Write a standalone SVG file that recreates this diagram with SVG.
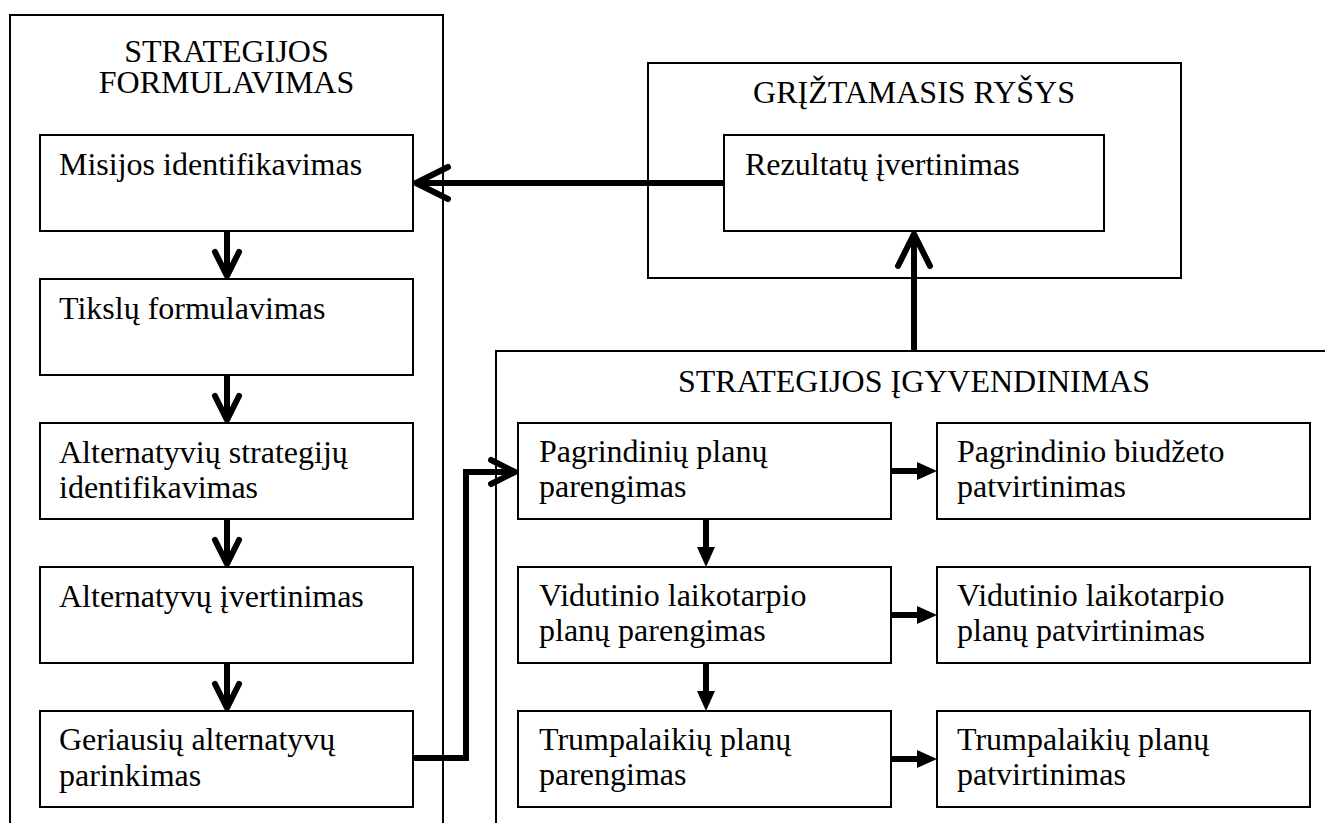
<svg xmlns="http://www.w3.org/2000/svg" width="1325" height="823" viewBox="0 0 1325 823">
  <style>
    text { font-family: "Liberation Serif", "Times New Roman", serif; font-size: 32px; fill: #000; }
    .mid { text-anchor: middle; }
    .frame { fill: none; stroke: #000; stroke-width: 2; }
    .box { fill: #fff; stroke: #000; stroke-width: 2; }
    .flow { fill: none; stroke: #000; stroke-width: 6; stroke-linecap: butt; }
  </style>
  <defs>
    <!-- open chevron heads, large and small -->
    <marker id="chevL" markerUnits="userSpaceOnUse" viewBox="-6 -22 44 44" refX="32" refY="0" markerWidth="44" markerHeight="44" orient="auto" overflow="visible">
      <path d="M0,-16 L32,0 L0,16" fill="none" stroke="#000" stroke-width="6" stroke-linecap="round" stroke-linejoin="round"/>
    </marker>
    <marker id="chevS" markerUnits="userSpaceOnUse" viewBox="-6 -18 36 36" refX="24" refY="0" markerWidth="36" markerHeight="36" orient="auto" overflow="visible">
      <path d="M0,-12 L24,0 L0,12" fill="none" stroke="#000" stroke-width="6" stroke-linecap="round" stroke-linejoin="round"/>
    </marker>
    <!-- solid triangle head; the line stops 14px short of the tip -->
    <marker id="tri" markerUnits="userSpaceOnUse" viewBox="0 0 20 18" refX="6" refY="9" markerWidth="20" markerHeight="18" orient="auto" overflow="visible">
      <path d="M0,0 L20,9 L0,18 Z" fill="#000"/>
    </marker>
  </defs>

  <rect width="1325" height="823" fill="#fff"/>

  <!-- Strategy formulation column -->
  <g id="formulavimas">
    <path class="frame" d="M10,830 V15 H443 V830"/>
    <text class="mid" x="226.5" y="62"><tspan x="226.5">STRATEGIJOS</tspan><tspan x="226.5" dy="31">FORMULAVIMAS</tspan></text>
  </g>
  <g id="misija">
    <rect class="box" x="40" y="135" width="373" height="96"/>
    <text x="59" y="175">Misijos identifikavimas</text>
  </g>
  <g id="tikslai">
    <rect class="box" x="40" y="279" width="373" height="96"/>
    <text x="59" y="319">Tikslų formulavimas</text>
  </g>
  <g id="alternatyvos">
    <rect class="box" x="40" y="423" width="373" height="96"/>
    <text x="59" y="463">Alternatyvių strategijų</text>
    <text x="59" y="498">identifikavimas</text>
  </g>
  <g id="ivertinimas">
    <rect class="box" x="40" y="567" width="373" height="96"/>
    <text x="59" y="607">Alternatyvų įvertinimas</text>
  </g>
  <g id="parinkimas">
    <rect class="box" x="40" y="711" width="373" height="96"/>
    <text x="59" y="750">Geriausių alternatyvų</text>
    <text x="59" y="786">parinkimas</text>
  </g>

  <!-- Feedback -->
  <g id="griztamasis">
    <rect class="frame" x="648" y="63" width="533" height="215"/>
    <text class="mid" x="914" y="103">GRĮŽTAMASIS RYŠYS</text>
  </g>
  <g id="rezultatai">
    <rect class="box" x="724" y="135" width="380" height="96"/>
    <text x="745" y="175">Rezultatų įvertinimas</text>
  </g>

  <!-- Strategy implementation -->
  <g id="igyvendinimas">
    <path class="frame" d="M496,830 V351 H1335"/>
    <text class="mid" x="914" y="392">STRATEGIJOS ĮGYVENDINIMAS</text>
  </g>
  <g id="pagrindiniai-planai">
    <rect class="box" x="518" y="423" width="373" height="96"/>
    <text x="539" y="462">Pagrindinių planų</text>
    <text x="539" y="497">parengimas</text>
  </g>
  <g id="vidutiniai-planai">
    <rect class="box" x="518" y="567" width="373" height="96"/>
    <text x="539" y="606">Vidutinio laikotarpio</text>
    <text x="539" y="641">planų parengimas</text>
  </g>
  <g id="trumpalaikiai-planai">
    <rect class="box" x="518" y="711" width="373" height="96"/>
    <text x="539" y="750">Trumpalaikių planų</text>
    <text x="539" y="785">parengimas</text>
  </g>
  <g id="biudzetas">
    <rect class="box" x="937" y="423" width="373" height="96"/>
    <text x="957" y="462">Pagrindinio biudžeto</text>
    <text x="957" y="497">patvirtinimas</text>
  </g>
  <g id="vidutiniu-tvirtinimas">
    <rect class="box" x="937" y="567" width="373" height="96"/>
    <text x="957" y="606">Vidutinio laikotarpio</text>
    <text x="957" y="641">planų patvirtinimas</text>
  </g>
  <g id="trumpalaikiu-tvirtinimas">
    <rect class="box" x="937" y="711" width="373" height="96"/>
    <text x="957" y="750">Trumpalaikių planų</text>
    <text x="957" y="785">patvirtinimas</text>
  </g>

  <!-- Connectors -->
  <g id="connectors">
    <!-- formulation chain -->
    <path class="flow" d="M227,231 V276" marker-end="url(#chevS)"/>
    <path class="flow" d="M227,375 V420" marker-end="url(#chevS)"/>
    <path class="flow" d="M227,519 V564" marker-end="url(#chevS)"/>
    <path class="flow" d="M227,663 V708" marker-end="url(#chevS)"/>
    <!-- feedback to mission -->
    <path class="flow" d="M724,183 H416" marker-end="url(#chevL)"/>
    <!-- implementation up to results -->
    <path class="flow" d="M914,351 V234" marker-end="url(#chevL)"/>
    <!-- chosen alternative into main plans -->
    <path class="flow" d="M413,758 H466 V472 H515" marker-end="url(#chevS)"/>
    <!-- plan chain -->
    <path class="flow" d="M706,519 V553" marker-end="url(#tri)"/>
    <path class="flow" d="M706,663 V697" marker-end="url(#tri)"/>
    <!-- approvals -->
    <path class="flow" d="M891,471 H923" marker-end="url(#tri)"/>
    <path class="flow" d="M891,615 H923" marker-end="url(#tri)"/>
    <path class="flow" d="M891,759 H923" marker-end="url(#tri)"/>
  </g>
</svg>
